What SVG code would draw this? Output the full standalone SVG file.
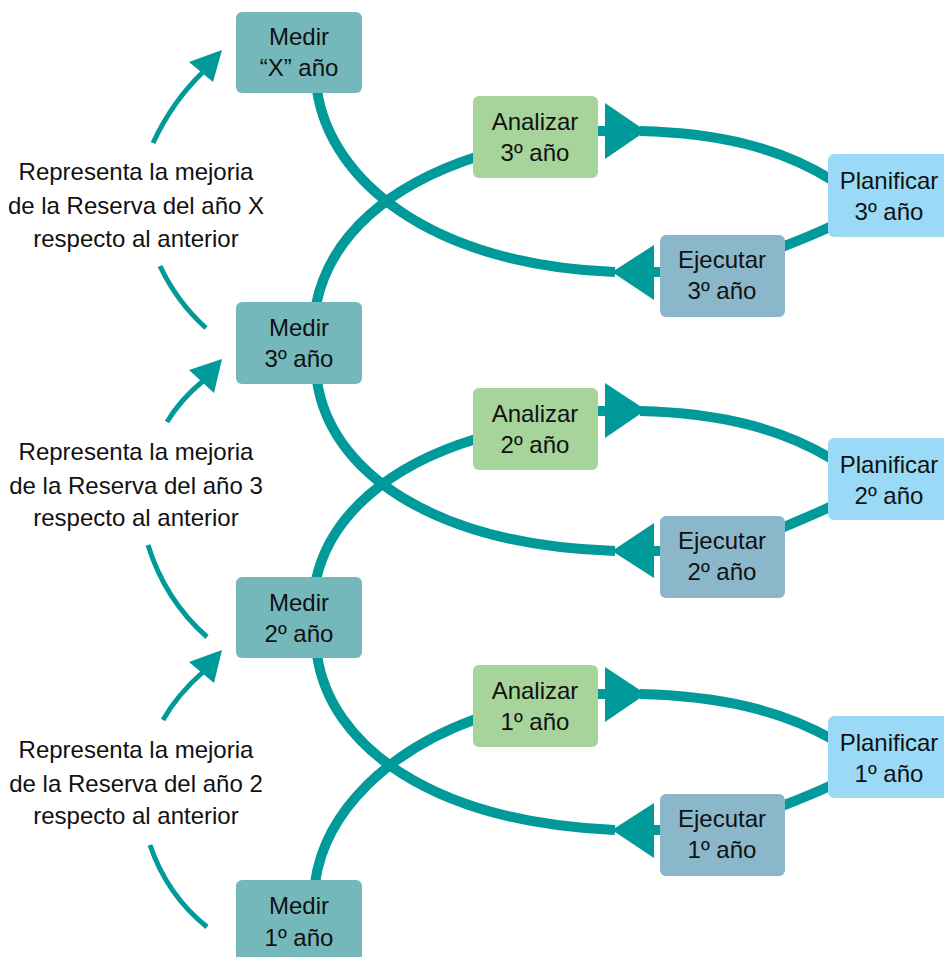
<svg xmlns="http://www.w3.org/2000/svg" width="944" height="957" viewBox="0 0 944 957">
<style>
.c{fill:none;stroke:#009a9a;stroke-width:10}
.t{fill:none;stroke:#009a9a;stroke-width:5}
.h{fill:#009a9a}
.m{fill:#74b8bc}
.a{fill:#a6d49a}
.p{fill:#9adaf7}
.e{fill:#8bb7ca}
text{font-family:"Liberation Sans",Arial,sans-serif;font-size:24px;fill:#111;text-anchor:middle}
</style>
<rect width="944" height="957" fill="#fff"/>
<g id="connectors">
  <!-- level 3 -->
  <path class="c" d="M317 90 C330 180 430 265 615 272"/>
  <path class="c" d="M316 305 C330 235 390 185 476 157"/>
  <path class="c" d="M596 131 H610"/>
  <polygon class="h" points="605,103 605,159 646,131"/>
  <path class="c" d="M640 131 C720 133 780 148 832 180"/>
  <path class="c" d="M832 226 C815 234 800 240 782 247"/>
  <polygon class="h" points="612,272 654,245 654,300"/>
  <path class="c" d="M650 272 H663"/>
  <!-- level 2 -->
  <path class="c" d="M317 381 C330 470 430 545 615 551"/>
  <path class="c" d="M316 580 C330 515 390 465 476 439"/>
  <path class="c" d="M596 411 H610"/>
  <polygon class="h" points="605,383 605,438 646,410"/>
  <path class="c" d="M640 411 C720 413 780 428 832 459"/>
  <path class="c" d="M832 506 C815 514 800 520 782 528"/>
  <polygon class="h" points="612,551 654,523 654,578"/>
  <path class="c" d="M650 551 H663"/>
  <!-- level 1 -->
  <path class="c" d="M317 655 C330 745 430 822 615 830"/>
  <path class="c" d="M315 883 C325 810 390 750 476 719"/>
  <path class="c" d="M596 694 H610"/>
  <polygon class="h" points="605,667 605,722 646,694"/>
  <path class="c" d="M640 694 C720 696 780 710 832 739"/>
  <path class="c" d="M832 785 C815 793 800 799 782 806"/>
  <polygon class="h" points="612,830 654,803 654,858"/>
  <path class="c" d="M650 830 H663"/>
  <!-- left arcs -->
  <path class="t" d="M153 143 Q172 102 203 72"/>
  <polygon class="h" points="189,62 222,50 213,82"/>
  <path class="t" d="M160 266 Q177 302 206 328"/>
  <path class="t" d="M167 422 Q180 400 203 381"/>
  <polygon class="h" points="189,370 222,359 214,393"/>
  <path class="t" d="M148 545 Q165 600 207 637"/>
  <path class="t" d="M163 720 Q177 695 203 672"/>
  <polygon class="h" points="189,662 222,650 214,683"/>
  <path class="t" d="M150 845 Q167 895 207 927"/>
</g>
<g id="label-x">
  <text x="136" y="180">Representa la mejoria</text>
  <text x="136" y="214">de la Reserva del año X</text>
  <text x="136" y="247">respecto al anterior</text>
</g>
<g id="label-3">
  <text x="136" y="460">Representa la mejoria</text>
  <text x="136" y="494">de la Reserva del año 3</text>
  <text x="136" y="526">respecto al anterior</text>
</g>
<g id="label-2">
  <text x="136" y="758">Representa la mejoria</text>
  <text x="136" y="792">de la Reserva del año 2</text>
  <text x="136" y="824">respecto al anterior</text>
</g>
<g id="medir-x"><rect class="m" x="236" y="12" width="126" height="81" rx="6"/><text x="299" y="45">Medir</text><text x="299" y="76">“X” año</text></g>
<g id="medir-3"><rect class="m" x="236" y="302" width="126" height="82" rx="6"/><text x="299" y="336">Medir</text><text x="299" y="367">3º año</text></g>
<g id="medir-2"><rect class="m" x="236" y="577" width="126" height="81" rx="6"/><text x="299" y="611">Medir</text><text x="299" y="642">2º año</text></g>
<g id="medir-1"><rect class="m" x="236" y="880" width="126" height="90" rx="6"/><text x="299" y="914">Medir</text><text x="299" y="946">1º año</text></g>
<g id="analizar-3"><rect class="a" x="473" y="96" width="125" height="82" rx="6"/><text x="535" y="130">Analizar</text><text x="535" y="161">3º año</text></g>
<g id="analizar-2"><rect class="a" x="473" y="388" width="125" height="82" rx="6"/><text x="535" y="422">Analizar</text><text x="535" y="453">2º año</text></g>
<g id="analizar-1"><rect class="a" x="473" y="665" width="125" height="82" rx="6"/><text x="535" y="699">Analizar</text><text x="535" y="730">1º año</text></g>
<g id="planificar-3"><rect class="p" x="828" y="154" width="130" height="83" rx="6"/><text x="889" y="189">Planificar</text><text x="889" y="220">3º año</text></g>
<g id="planificar-2"><rect class="p" x="828" y="438" width="130" height="82" rx="6"/><text x="889" y="473">Planificar</text><text x="889" y="504">2º año</text></g>
<g id="planificar-1"><rect class="p" x="828" y="716" width="130" height="82" rx="6"/><text x="889" y="751">Planificar</text><text x="889" y="782">1º año</text></g>
<g id="ejecutar-3"><rect class="e" x="660" y="235" width="125" height="82" rx="6"/><text x="722" y="268">Ejecutar</text><text x="722" y="299">3º año</text></g>
<g id="ejecutar-2"><rect class="e" x="660" y="516" width="125" height="82" rx="6"/><text x="722" y="549">Ejecutar</text><text x="722" y="580">2º año</text></g>
<g id="ejecutar-1"><rect class="e" x="660" y="794" width="125" height="82" rx="6"/><text x="722" y="827">Ejecutar</text><text x="722" y="858">1º año</text></g>
</svg>
